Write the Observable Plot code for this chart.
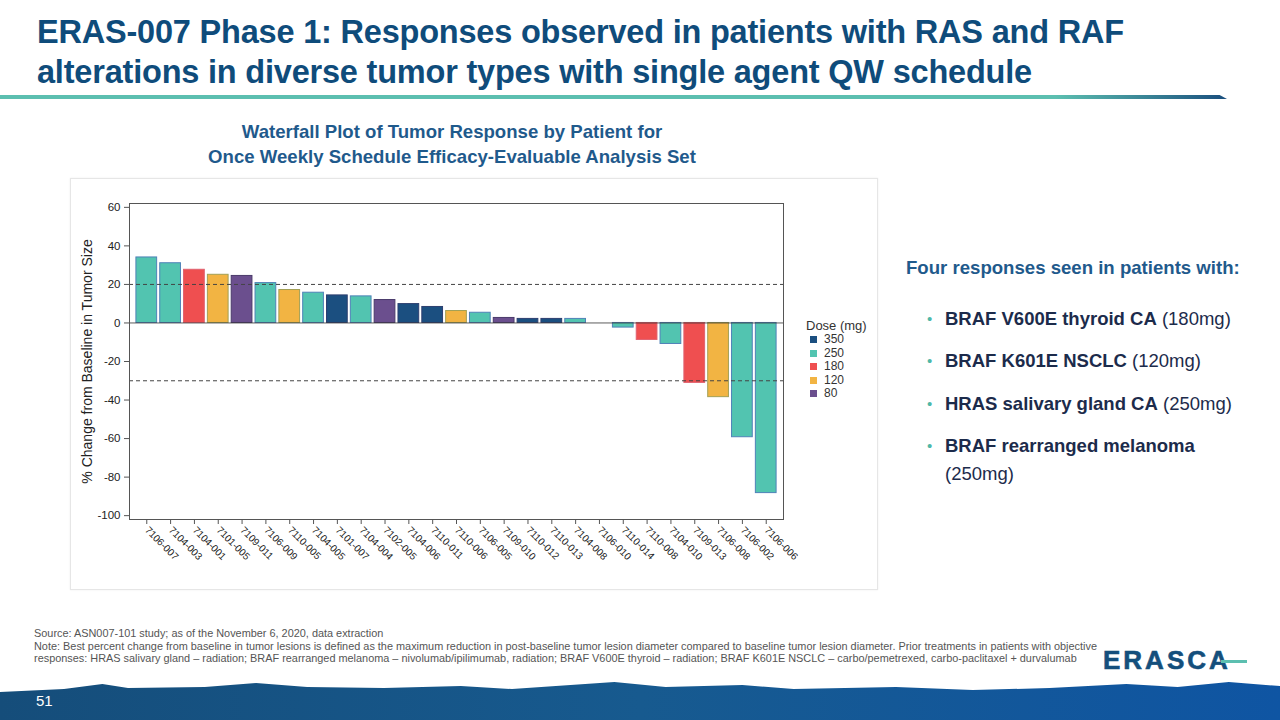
<!DOCTYPE html>
<html>
<head>
<meta charset="utf-8">
<script src="https://cdn.jsdelivr.net/npm/d3@7"></script>
<script src="https://cdn.jsdelivr.net/npm/@observablehq/plot@0.6"></script>
<style>
  html, body { margin: 0; padding: 0; }
  body { width: 1280px; height: 720px; position: relative; overflow: hidden; background: #fff; font-family: "Liberation Sans", Arial, sans-serif; }
  .abs { position: absolute; }
  #title { left: 37px; top: 12px; font-weight: bold; font-size: 32.5px; line-height: 40px; color: #0f4c7b; letter-spacing: -0.2px; white-space: nowrap; }
  #rule { left: 0; top: 95px; width: 1227px; height: 4px; background: linear-gradient(to right, #5cbfb0 0%, #5cbfb0 86%, #1a4f7e 100%); clip-path: polygon(0 0, 99.4% 0, 100% 100%, 0 100%); }
  #ctitle { left: 102px; top: 119px; width: 700px; text-align: center; font-weight: bold; font-size: 18.6px; line-height: 25px; color: #1f5a8c; }
  #panel { left: 70px; top: 178px; width: 806px; height: 410px; border: 1px solid #e6e6e6; box-shadow: 0 0 2px #eee; }
  #chart { left: 70px; top: 178px; }
  #legend { left: 806px; top: 318px; font-size: 12px; color: #333; }
  #legend .lt { font-size: 13px; margin-bottom: 0px; height: 15px; }
  #legend .it { height: 13.6px; line-height: 13.6px; padding-left: 4px; }
  #legend .sw { display: inline-block; width: 7px; height: 7px; margin-right: 7px; vertical-align: 0px; }
  #right { left: 906px; top: 257px; color: #1c2b4b; font-size: 18.5px; }
  #right .head { font-weight: bold; color: #1f5a8c; font-size: 18.6px; white-space: nowrap; }
  #right ul { list-style: none; margin: 0; padding: 0; }
  #right li { position: absolute; left: 39px; width: 310px; line-height: 28px; white-space: nowrap; }
  #right li::before { content: "•"; color: #4fb8a8; position: absolute; left: -18px; font-size: 15px; }
  #foot { left: 34px; top: 627px; font-size: 10.9px; line-height: 12.6px; color: #555; white-space: nowrap; }
  #band { left: 0; top: 678px; width: 1280px; height: 42px; background: linear-gradient(to right, #154d7a 0%, #175a8f 50%, #0f55a3 100%);
    clip-path: polygon(0 14px, 5% 11px, 8% 6px, 10% 10px, 16% 9px, 20% 5px, 24% 9px, 30% 10px, 36% 8px, 40% 11px, 48% 4px, 52% 9px, 58% 7px, 62% 11px, 70% 9px, 76% 12px, 82% 10px, 88% 6px, 92% 9px, 96% 4px, 100% 8px, 100% 100%, 0 100%); }
  #pg { left: 36px; top: 692px; color: #fff; font-size: 15px; }
  #logo { left: 1103px; top: 646px; font-weight: bold; font-size: 26px; color: #144f7c; letter-spacing: 3px; line-height: 28px; -webkit-text-stroke: 0.6px #144f7c; }
  #dash { left: 1221px; top: 660px; width: 26px; height: 3px; background: #5cbfb0; }
</style>
</head>
<body>
<div id="title" class="abs">ERAS-007 Phase 1: Responses observed in patients with RAS and RAF<br>alterations in diverse tumor types with single agent QW schedule</div>
<div id="rule" class="abs"></div>
<div id="ctitle" class="abs">Waterfall Plot of Tumor Response by Patient for<br>Once Weekly Schedule Efficacy-Evaluable Analysis Set</div>
<div id="panel" class="abs"></div>
<div id="chart" class="abs"></div>
<div id="legend" class="abs"></div>
<div id="right" class="abs">
  <div class="head">Four responses seen in patients with:</div>
  <ul>
    <li style="top:48px"><b>BRAF V600E thyroid CA</b> (180mg)</li>
    <li style="top:90px"><b>BRAF K601E NSCLC</b> (120mg)</li>
    <li style="top:133px"><b>HRAS salivary gland CA</b> (250mg)</li>
    <li style="top:175px"><b>BRAF rearranged melanoma</b><br>(250mg)</li>
  </ul>
</div>
<div id="foot" class="abs">Source: ASN007-101 study; as of the November 6, 2020, data extraction<br>Note: Best percent change from baseline in tumor lesions is defined as the maximum reduction in post-baseline tumor lesion diameter compared to baseline tumor lesion diameter. Prior treatments in patients with objective<br>responses:  HRAS salivary gland – radiation; BRAF rearranged melanoma – nivolumab/ipilimumab, radiation; BRAF V600E thyroid – radiation; BRAF K601E NSCLC – carbo/pemetrexed, carbo-paclitaxel + durvalumab</div>
<div id="band" class="abs"></div>
<div id="pg" class="abs">51</div>
<div id="logo" class="abs">ERASCA</div>
<div id="dash" class="abs"></div>
<script>
const patients = ["7106-007","7104-003","7104-001","7101-005","7109-011","7106-009","7110-005","7104-005","7101-007","7104-004","7102-005","7104-006","7110-011","7110-006","7106-005","7109-010","7110-012","7110-013","7104-008","7106-010","7110-014","7110-008","7104-010","7109-013","7106-008","7106-002","7106-006"];
const changes = [34, 31, 27.6, 25, 24.4, 20.7, 17.1, 15.7, 14.3, 13.8, 11.9, 9.8, 8.3, 6.2, 5.3, 2.6, 2.1, 2.1, 2.1, 0, -2.4, -8.8, -10.9, -31.1, -38.5, -59.3, -88.3];
const doses = [250, 250, 180, 120, 80, 250, 120, 250, 350, 250, 80, 350, 350, 120, 250, 80, 350, 350, 250, 250, 250, 180, 250, 180, 120, 250, 250];
const doseLevels = [350, 250, 180, 120, 80];
const doseColors = ["#1b4f80", "#52c4b0", "#ef4f50", "#f2b443", "#6b4f8e"];
const doseStrokes = ["#2d3f70", "#4f82b8", "#e0606e", "#a3a055", "#4a3a6a"];
const yTicks = [-100, -80, -60, -40, -20, 0, 20, 40, 60];
const refLines = [20, -30];

const data = patients.map((p, i) => ({patient: p, change: changes[i], dose: doses[i]}));
const strokeOf = d => doseStrokes[doseLevels.indexOf(d.dose)];

const chart = Plot.plot({
  width: 808, height: 412,
  marginLeft: 59, marginRight: 95, marginTop: 25, marginBottom: 71,
  style: {fontFamily: "'Liberation Sans', Arial, sans-serif", fontSize: "11px", color: "#222", background: "transparent"},
  x: {domain: patients, paddingInner: 0.13, paddingOuter: 0.29, round: false},
  y: {domain: [-102, 62]},
  color: {type: "ordinal", domain: doseLevels, range: doseColors},
  marks: [
    Plot.barY(data, {x: "patient", y: "change", fill: "dose", stroke: {value: strokeOf, scale: null}, strokeWidth: 1}),
    Plot.ruleY([0], {stroke: "#333", strokeWidth: 0.8}),
    Plot.ruleY(refLines, {stroke: "#444", strokeDasharray: "4,3", strokeWidth: 1}),
    Plot.frame({stroke: "#555", strokeWidth: 1}),
    Plot.axisY({ticks: yTicks, tickFormat: d => String(d), tickSize: 5, label: null, fontSize: 11.5, stroke: "#555"}),
    Plot.axisY({ticks: [], label: "% Change from Baseline in Tumor Size", labelAnchor: "center", labelArrow: "none", labelOffset: 47, fontSize: 14}),
    Plot.axisX({tickRotate: 45, tickSize: 5, label: null, fontSize: 10, stroke: "#555", tickPadding: 4})
  ]
});
document.getElementById("chart").appendChild(chart);

const leg = document.getElementById("legend");
const lt = document.createElement("div"); lt.className = "lt"; lt.textContent = "Dose (mg)"; leg.appendChild(lt);
doseLevels.forEach((d, i) => {
  const it = document.createElement("div"); it.className = "it";
  const sw = document.createElement("span"); sw.className = "sw"; sw.style.background = doseColors[i];
  it.appendChild(sw); it.appendChild(document.createTextNode(String(d)));
  leg.appendChild(it);
});
</script>
</body>
</html>
